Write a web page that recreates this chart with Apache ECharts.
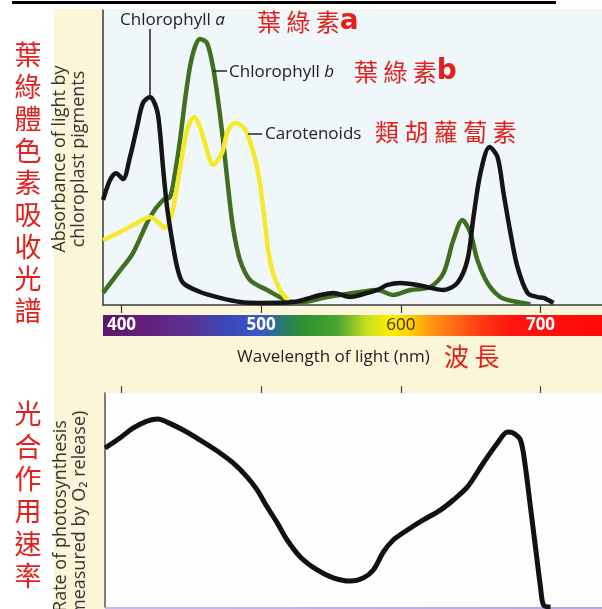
<!DOCTYPE html>
<html><head><meta charset="utf-8">
<script src="https://cdn.jsdelivr.net/npm/echarts@6/dist/echarts.min.js"></script>
<style>
html,body{margin:0;padding:0;background:#fff;}
#wrap{position:relative;width:602px;height:609px;overflow:hidden;background:#fff;}
#cream{position:absolute;left:54px;top:9px;right:0;bottom:0;background:#fcf6d8;}
#rule{position:absolute;left:12px;top:1px;width:544px;height:3px;background:#000;}
#spectrum{position:absolute;left:103px;top:315px;width:499px;height:21px;}
#strip{position:absolute;left:105px;top:607px;right:0;height:2px;background:linear-gradient(to right,#c9b8ec,#b9a6e2);}
#chart{position:absolute;left:0;top:0;width:602px;height:609px;}
</style></head><body>
<div id="wrap"><div id="cream"></div><div id="rule"></div><div id="spectrum"></div><div id="strip"></div><div id="chart"></div></div>
<script>
// ---------- data ----------
const tickWavelengths = [400, 500, 600, 700];

const chlA_nm  = [386.8,391.8,396.1,401.1,406.1,411.1,415.4,420.4,425.4,427.6,429.7,432.6,436.2,439.8,444.1,456.3,470.6,485.0,499.3,523.0,542.3,551.6,563.8,571.0,583.2,590.4,599.6,611.8,621.1,630.5,640.5,647.7,652.0,657.0,663.5,669.2,673.5,678.5,683.5,690.7,697.9,702.2,709.3];
const chlA_abs = [35.6,42.4,44.7,42.7,50.2,60.3,68.5,70.5,66.1,58.3,46.8,33.2,22.0,12.9,7.5,4.4,2.4,1.0,0.7,1.0,3.4,4.1,2.7,3.4,5.1,6.8,7.5,6.8,5.8,5.1,7.5,15.3,29.8,44.7,53.6,50.2,38.0,24.4,12.9,4.1,2.7,2.4,0.7];

const chlB_nm  = [386.8,397.5,408.2,420.4,429.7,434.7,438.3,441.9,445.5,449.0,452.6,456.2,461.2,465.5,469.1,472.7,476.3,479.8,484.8,492.0,504.2,523.0,530.1,547.3,571.0,583.2,594.6,606.8,621.1,630.5,637.6,644.1,649.8,654.8,662.0,671.3,683.5,692.8];
const chlB_abs = [4.1,10.8,17.6,29.8,35.6,36.6,44.7,55.9,69.5,80.7,87.5,90.2,88.8,80.7,69.5,55.9,40.0,26.4,15.3,8.5,5.1,1.0,1.0,2.7,4.4,5.1,3.4,5.1,6.1,10.8,22.0,28.8,24.4,15.3,7.5,2.7,1.0,0.3];

const car_nm  = [386.8,398.9,411.1,420.4,426.1,431.1,436.2,439.7,443.3,446.9,451.9,456.2,461.2,465.5,471.9,476.3,481.3,486.3,489.9,497.1,501.4,505.0,508.5,513.5,520.6];
const car_abs = [22.0,24.7,27.8,29.8,28.1,26.1,31.2,40.0,50.2,59.3,63.7,60.3,52.5,47.5,51.5,59.3,61.7,60.7,58.3,46.8,33.2,18.6,10.8,5.1,0.7];

const photo_nm   = [388.2,398.9,408.2,418.3,426.2,432.6,444.1,456.3,468.5,479.9,490.0,497.1,504.3,511.5,518.6,528.0,540.1,551.6,563.8,573.1,580.3,587.5,594.6,604.7,616.1,628.3,637.6,647.7,659.1,669.2,676.3,680.6,685.7,689.2,692.8,696.4,700.0,702.2,707.2];
const photo_rate = [74.3,79.0,83.6,86.9,87.9,86.4,82.7,78.0,72.9,67.3,60.7,54.7,46.7,39.3,31.3,23.4,17.3,13.6,12.1,13.6,17.3,25.7,31.3,36.0,40.7,45.3,50.0,56.1,67.3,76.6,81.8,81.3,78.0,65.4,46.7,28.0,9.3,0.9,0];

const spectrumNm     = [386.8,420,450,475,500,515,530,555,575,592,605,620,640,660,680,744];
const spectrumColors = ['#5a1a6a','#641f7c','#5a3294','#3a48b6','#3858c8','#2a7a70','#2e9032','#48a630','#c4de22','#fff000','#ffd400','#ff9c12','#ff6614','#ff3412','#ff1410','#ff0a08'];

// ---------- layout ----------
const PX_PER_NM = (540.5 - 121.5) / 300;
const TOP_LEFT = 103, BOT_LEFT = 105, RIGHT_EDGE = 602;
const topMin = 400 - (121.5 - TOP_LEFT) / PX_PER_NM;
const botMin = 400 - (121.5 - BOT_LEFT) / PX_PER_NM;
const xMax = 400 + (RIGHT_EDGE - 121.5) / PX_PER_NM;

document.getElementById('spectrum').style.background =
  'linear-gradient(to right,' + spectrumNm.map((nm, i) =>
    spectrumColors[i] + ' ' + ((nm - topMin) / (xMax - topMin) * 100).toFixed(2) + '%').join(',') + ')';

const zip = (a, b) => a.map((v, i) => [v, b[i]]);
const EN = '"Open Sans", sans-serif';
const CJK = '"Noto Sans CJK TC", sans-serif';
const RED = '#e3211c';

const chart = echarts.init(document.getElementById('chart'), null, {renderer: 'canvas'});

function txt(x, y, text, extra) {
  return Object.assign({type: 'text', x: x, y: y, z: 10,
    style: Object.assign({text: text, fill: '#222', align: 'left', verticalAlign: 'middle',
      textAlign: 'left', textVerticalAlign: 'middle'}, extra.style || {})}, extra.el || {});
}

const option = {
  backgroundColor: 'transparent',
  animation: false,
  grid: [
    {left: TOP_LEFT, top: 10, width: RIGHT_EDGE - TOP_LEFT, height: 295, show: true, borderWidth: 0, backgroundColor: '#f0f7fa'},
    {left: BOT_LEFT, top: 393, width: RIGHT_EDGE - BOT_LEFT, height: 214, show: true, borderWidth: 0, backgroundColor: '#fefefe'}
  ],
  xAxis: [
    {type: 'value', gridIndex: 0, min: topMin, max: xMax,
     axisLine: {show: true, onZero: false, lineStyle: {color: '#3a3a3a', width: 1.5}},
     axisTick: {show: true, customValues: tickWavelengths, length: 8, lineStyle: {color: '#3a3a3a', width: 1.2}},
     axisLabel: {show: true, customValues: tickWavelengths, margin: 12,
       formatter: v => (v === 600 ? '{d|' + v + '}' : '{w|' + v + '}'),
       rich: {
         w: {color: '#ffffff', fontWeight: 'bold', fontSize: 17, fontFamily: EN},
         d: {color: '#3a3020', fontWeight: 'normal', fontSize: 17, fontFamily: EN}
       }},
     splitLine: {show: false}},
    {type: 'value', gridIndex: 1, position: 'top', min: botMin, max: xMax,
     axisLine: {show: false, onZero: false},
     axisTick: {show: true, customValues: tickWavelengths, length: 7, lineStyle: {color: '#444', width: 1.2}},
     axisLabel: {show: false},
     splitLine: {show: false}}
  ],
  yAxis: [
    {type: 'value', gridIndex: 0, min: 0, max: 100,
     axisLine: {show: true, onZero: false, lineStyle: {color: '#3a3a3a', width: 1.5}},
     axisTick: {show: false}, axisLabel: {show: false}, splitLine: {show: false}},
    {type: 'value', gridIndex: 1, min: 0, max: 100,
     axisLine: {show: true, onZero: false, lineStyle: {color: '#555', width: 1.5}},
     axisTick: {show: false}, axisLabel: {show: false}, splitLine: {show: false}}
  ],
  series: [
    {name: 'Chlorophyll b', type: 'line', xAxisIndex: 0, yAxisIndex: 0, data: zip(chlB_nm, chlB_abs),
     smooth: 0.3, showSymbol: false, lineStyle: {color: '#416f21', width: 4.5}},
    {name: 'Carotenoids', type: 'line', xAxisIndex: 0, yAxisIndex: 0, data: zip(car_nm, car_abs),
     smooth: 0.3, showSymbol: false, lineStyle: {color: '#f4ea2a', width: 4.5}},
    {name: 'Chlorophyll a', type: 'line', xAxisIndex: 0, yAxisIndex: 0, data: zip(chlA_nm, chlA_abs),
     smooth: 0.3, showSymbol: false, lineStyle: {color: '#151515', width: 4.5}},
    {name: 'Rate of photosynthesis', type: 'line', xAxisIndex: 1, yAxisIndex: 1, data: zip(photo_nm, photo_rate),
     smooth: 0.3, showSymbol: false, lineStyle: {color: '#111', width: 5}}
  ]
};
chart.setOption(option);

const peakA = chart.convertToPixel({gridIndex: 0}, [420.4, 70.5]);

chart.setOption({
  graphic: [
    {type: 'text', x: 69, y: 159, rotation: Math.PI / 2, z: 10,
     style: {text: 'Absorbance of light by\nchloroplast pigments', font: '18px ' + EN, fill: '#333', lineHeight: 19,
       align: 'center', verticalAlign: 'middle', textAlign: 'center', textVerticalAlign: 'middle'}},
    {type: 'text', x: 70, y: 516, rotation: Math.PI / 2, z: 10,
     style: {text: 'Rate of photosynthesis\n(measured by O\u2082 release)', font: '18px ' + EN, fill: '#333', lineHeight: 19,
       align: 'center', verticalAlign: 'middle', textAlign: 'center', textVerticalAlign: 'middle'}},
    {type: 'text', x: 28, y: 183, z: 10,
     style: {text: '葉\n綠\n體\n色\n素\n吸\n收\n光\n譜', font: '27px ' + CJK, fill: RED, lineHeight: 32,
       align: 'center', verticalAlign: 'middle', textAlign: 'center', textVerticalAlign: 'middle'}},
    {type: 'text', x: 28, y: 495, z: 10,
     style: {text: '光\n合\n作\n用\n速\n率', font: '27px ' + CJK, fill: RED, lineHeight: 32.4,
       align: 'center', verticalAlign: 'middle', textAlign: 'center', textVerticalAlign: 'middle'}},
    txt(120, 20, '{n|Chlorophyll }{i|a}', {style: {rich: {n: {fontSize: 17, fontFamily: EN, fill: '#222'}, i: {fontSize: 17, fontFamily: EN, fontStyle: 'italic', fill: '#222'}}}}),
    txt(229, 72, '{n|Chlorophyll }{i|b}', {style: {rich: {n: {fontSize: 17, fontFamily: EN, fill: '#222'}, i: {fontSize: 17, fontFamily: EN, fontStyle: 'italic', fill: '#222'}}}}),
    txt(265, 134, 'Carotenoids', {style: {font: '17px ' + EN, fill: '#222'}}),
    {type: 'line', z: 10, shape: {x1: peakA[0], y1: 29, x2: peakA[0], y2: peakA[1]}, style: {stroke: '#222', lineWidth: 1.5}},
    {type: 'line', z: 10, shape: {x1: 213, y1: 71, x2: 227, y2: 71}, style: {stroke: '#222', lineWidth: 1.5}},
    {type: 'line', z: 10, shape: {x1: 248, y1: 134, x2: 262, y2: 134}, style: {stroke: '#222', lineWidth: 1.5}},
    txt(257, 22, '{c|葉 綠 素}{b|a}', {style: {rich: {c: {fontSize: 24, fontFamily: CJK, fill: RED}, b: {fontSize: 28, fontFamily: '"DejaVu Sans", sans-serif', fontWeight: 'bold', fill: RED}}}}),
    txt(354, 72, '{c|葉 綠 素}{b|b}', {style: {rich: {c: {fontSize: 24, fontFamily: CJK, fill: RED}, b: {fontSize: 28, fontFamily: '"DejaVu Sans", sans-serif', fontWeight: 'bold', fill: RED}}}}),
    txt(375, 132, '類 胡 蘿 蔔 素', {style: {font: '24px ' + CJK, fill: RED}}),
    txt(237, 357, 'Wavelength of light (nm)', {style: {font: '17px ' + EN, fill: '#222'}}),
    txt(444, 356, '波 長', {style: {font: '25px ' + CJK, fill: RED}})
  ]
});
</script>
</body></html>
